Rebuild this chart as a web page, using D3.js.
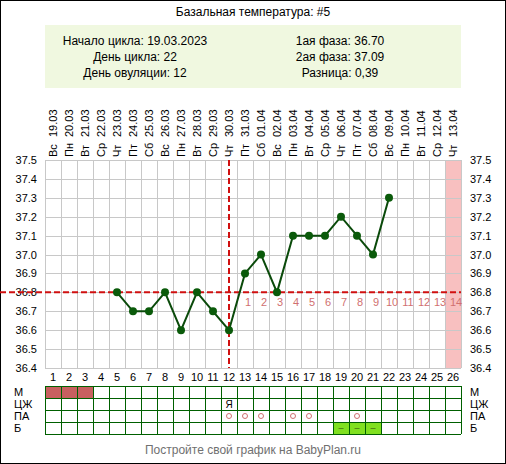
<!DOCTYPE html>
<html>
<head>
<meta charset="utf-8">
<script src="https://cdn.jsdelivr.net/npm/d3@7/dist/d3.min.js"></script>
<style>
body { margin: 0; background: #fff; }
text { font-family: Arial, "Liberation Sans", sans-serif; }
</style>
</head>
<body>
<script>
var dates = ["19.03","20.03","21.03","22.03","23.03","24.03","25.03","26.03","27.03","28.03","29.03","30.03","31.03","01.04","02.04","03.04","04.04","05.04","06.04","07.04","08.04","09.04","10.04","11.04","12.04","13.04"];
var weekdays = ["Вс","Пн","Вт","Ср","Чт","Пт","Сб","Вс","Пн","Вт","Ср","Чт","Пт","Сб","Вс","Пн","Вт","Ср","Чт","Пт","Сб","Вс","Пн","Вт","Ср","Чт"];
var tempDays = [5,6,7,8,9,10,11,12,13,14,15,16,17,18,19,20,21,22];
var temps = [36.8,36.7,36.7,36.8,36.6,36.8,36.7,36.6,36.9,37.0,36.8,37.1,37.1,37.1,37.2,37.1,37.0,37.3];
var yTicks = [37.5,37.4,37.3,37.2,37.1,37.0,36.9,36.8,36.7,36.6,36.5,36.4];
var coverLine = 36.8, ovulationDay = 12;
var mensDays = [1,2,3];
var cervixMarks = [{day:12, t:"Я"}];
var paDays = [12,13,14,16,17,20];
var testDays = [19,20,21];
var rowLabels = ["М","ЦЖ","ПА","Б"];
var infoLeft = ["Начало цикла: 19.03.2023","День цикла: 22","День овуляции: 12"];
var infoRight = ["1ая фаза: 36.70","2ая фаза: 37.09","Разница: 0,39"];

var W = 506, H = 464, x0 = 45, cw = 16, n = dates.length, x1 = x0 + cw*n;
var svg = d3.select("body").append("svg").attr("width", W).attr("height", H);
svg.append("rect").attr("x",0.5).attr("y",0.5).attr("width",W-1).attr("height",H-1).attr("fill","#fff").attr("stroke","#000");

var x = d3.scaleBand().domain(d3.range(1,n+1)).range([x0,x1]);
var y = d3.scaleLinear().domain([36.4,37.5]).range([368,160]);

svg.append("text").attr("x",W/2).attr("y",16).attr("text-anchor","middle").attr("font-size",12).text("Базальная температура: #5");
svg.append("rect").attr("x",x0).attr("y",25).attr("width",x1-x0).attr("height",63).attr("fill","#f0f8e0");
infoLeft.forEach(function(d,i){
  svg.append("text").attr("x",135).attr("y",45+i*16).attr("text-anchor","middle").attr("font-size",12).text(d);
});
infoRight.forEach(function(d,i){
  svg.append("text").attr("x",340).attr("y",45+i*16).attr("text-anchor","middle").attr("font-size",12).text(d);
});

// rotated headers
dates.forEach(function(d,i){
  var cx = x(i+1)+cw/2+4;
  svg.append("text").attr("transform","translate("+cx+",137) rotate(-90)").attr("font-size",11).text(d);
  svg.append("text").attr("transform","translate("+cx+",157) rotate(-90)").attr("font-size",11).text(weekdays[i]);
});

// pink last column
svg.append("rect").attr("x",x(n)).attr("y",y(37.5)).attr("width",cw).attr("height",y(36.4)-y(37.5)).attr("fill","#f8c0c0");

// grid
var g = svg.append("g").attr("stroke","#c8c8c8").attr("stroke-width",1);
d3.range(0,n+1).forEach(function(i){
  g.append("line").attr("x1",x0+i*cw+0.5).attr("x2",x0+i*cw+0.5).attr("y1",y(37.5)).attr("y2",y(36.4));
});
yTicks.forEach(function(t){
  g.append("line").attr("x1",x0).attr("x2",x1).attr("y1",Math.round(y(t))+0.5).attr("y2",Math.round(y(t))+0.5);
  svg.append("text").attr("x",x0-8).attr("y",y(t)+4).attr("text-anchor","end").attr("font-size",11).text(t.toFixed(1));
  svg.append("text").attr("x",x1+9).attr("y",y(t)+4).attr("font-size",11).text(t.toFixed(1));
});

// phase numbers
d3.range(ovulationDay+1,n+1).forEach(function(d,i){
  svg.append("text").attr("x",x(d)+cw/2+3).attr("y",y(coverLine)+14).attr("text-anchor","middle").attr("font-size",11).attr("fill","#d07070").text(i+1);
});

// dashed lines
svg.append("line").attr("x1",0).attr("x2",x1).attr("y1",y(coverLine)).attr("y2",y(coverLine)).attr("stroke","#d01010").attr("stroke-width",2).attr("stroke-dasharray","6,3");
var ox = x(ovulationDay)+cw/2;
svg.append("line").attr("x1",ox).attr("x2",ox).attr("y1",y(37.5)).attr("y2",y(36.4)).attr("stroke","#d01010").attr("stroke-width",2).attr("stroke-dasharray","6,3");

// temp line
var pts = tempDays.map(function(d,i){ return [x(d)+cw/2, y(temps[i])]; });
svg.append("path").attr("d",d3.line()(pts)).attr("fill","none").attr("stroke","#0a4a0a").attr("stroke-width",2);
svg.selectAll("circle.t").data(pts).enter().append("circle").attr("class","t")
  .attr("cx",function(d){return d[0];}).attr("cy",function(d){return d[1];}).attr("r",4).attr("fill","#0a5a0a");

// day numbers
d3.range(1,n+1).forEach(function(d){
  svg.append("text").attr("x",x(d)+cw/2).attr("y",381).attr("text-anchor","middle").attr("font-size",11).text(d);
});

// bottom table
var ty = 386, rh = 12;
mensDays.forEach(function(d){ svg.append("rect").attr("x",x(d)).attr("y",ty).attr("width",cw).attr("height",rh).attr("fill","#c86060"); });
testDays.forEach(function(d){
  svg.append("rect").attr("x",x(d)).attr("y",ty+3*rh).attr("width",cw).attr("height",rh).attr("fill","#80e020");
  svg.append("text").attr("x",x(d)+cw/2).attr("y",ty+3*rh+9).attr("text-anchor","middle").attr("font-size",9).attr("fill","#406010").text("–");
});
cervixMarks.forEach(function(m){
  svg.append("text").attr("x",x(m.day)+cw/2).attr("y",ty+rh+10).attr("text-anchor","middle").attr("font-size",10).text(m.t);
});
paDays.forEach(function(d){
  svg.append("circle").attr("cx",x(d)+cw/2).attr("cy",ty+2*rh+6).attr("r",2.5).attr("fill","none").attr("stroke","#d07070");
});
var tg = svg.append("g").attr("stroke","#006000").attr("stroke-width",1);
d3.range(0,5).forEach(function(r){
  tg.append("line").attr("x1",x0).attr("x2",x1).attr("y1",ty+r*rh+0.5).attr("y2",ty+r*rh+0.5);
});
d3.range(0,n+1).forEach(function(i){
  tg.append("line").attr("x1",x0+i*cw+0.5).attr("x2",x0+i*cw+0.5).attr("y1",ty).attr("y2",ty+4*rh);
});
rowLabels.forEach(function(l,i){
  svg.append("text").attr("x",14).attr("y",ty+i*rh+10).attr("font-size",11).text(l);
  svg.append("text").attr("x",x1+9).attr("y",ty+i*rh+10).attr("font-size",11).text(l);
});

svg.append("text").attr("x",W/2).attr("y",454).attr("text-anchor","middle").attr("font-size",12).attr("fill","#707070").text("Постройте свой график на BabyPlan.ru");
</script>
</body>
</html>
